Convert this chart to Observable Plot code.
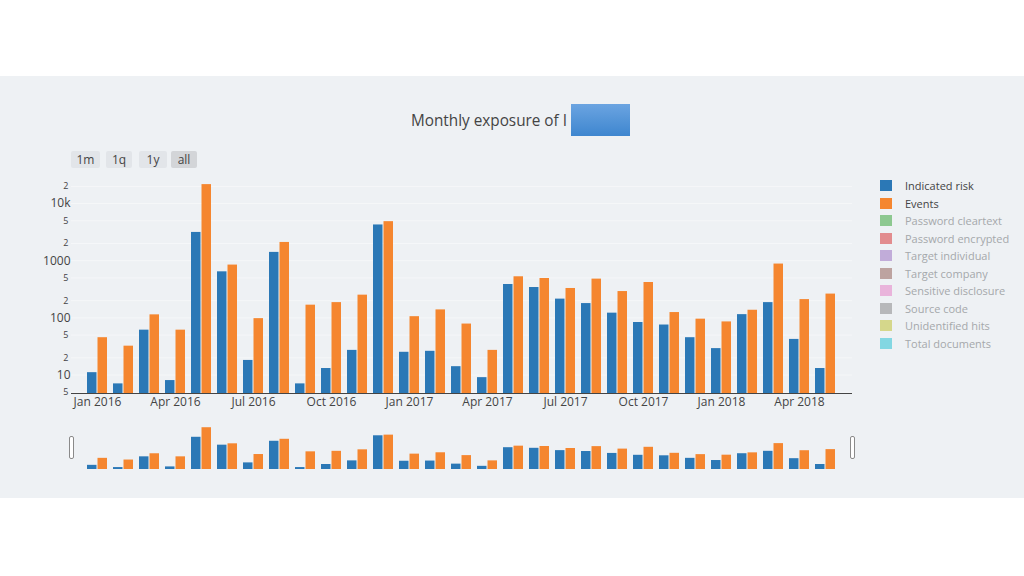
<!DOCTYPE html>
<html>
<head>
<meta charset="utf-8">
<script src="https://cdn.jsdelivr.net/npm/d3@7"></script>
<script src="https://cdn.jsdelivr.net/npm/@observablehq/plot@0.6"></script>
<style>
  html, body { margin: 0; padding: 0; background: #fff; }
  body { width: 1024px; height: 576px; position: relative; overflow: hidden; font-family: "Open Sans", sans-serif; }
  #panel { position: absolute; left: 0; top: 76px; width: 1024px; height: 422px; background: #eef1f4; }
  #title { position: absolute; left: 411px; top: 109px; font-size: 17px; line-height: 22px; color: #444; white-space: nowrap; transform: scaleX(0.9); transform-origin: left center; }
  #redact { position: absolute; left: 571px; top: 104px; width: 59px; height: 32px; background: linear-gradient(#6ba4e1, #3e86cf); }
  .btn { position: absolute; top: 151px; height: 17px; line-height: 17px; font-size: 12px; color: #444; background: #e2e5e9; text-align: center; border-radius: 2px; }
  .btn.sel { background: #d3d5d8; }
  #main, #mini { position: absolute; left: 0; }
  #main { top: 170px; }
  #mini { top: 420px; }
  #legend { position: absolute; left: 880px; top: 177px; }
  .li { height: 17.5px; display: flex; align-items: center; font-size: 11px; color: #444; white-space: nowrap; }
  .li .sw { width: 12px; height: 11px; margin-right: 13px; }
  .li.off { color: #a5a8ab; }
  .li.off .sw { opacity: 0.5; }
  .handle { position: absolute; top: 436px; width: 3px; height: 21px; background: #fff; border: 1px solid #8a8a8a; border-radius: 2px; }
</style>
</head>
<body>
<div id="panel"></div>
<div id="title">Monthly exposure of I</div>
<div id="redact"></div>
<div id="buttons"></div>
<div id="main"></div>
<div id="mini"></div>
<div id="legend"></div>
<div class="handle" style="left:69px"></div>
<div class="handle" style="left:850px"></div>
<script>
// ---- data ----
const months = ["2016-01","2016-02","2016-03","2016-04","2016-05","2016-06","2016-07","2016-08","2016-09","2016-10","2016-11","2016-12",
                "2017-01","2017-02","2017-03","2017-04","2017-05","2017-06","2017-07","2017-08","2017-09","2017-10","2017-11","2017-12",
                "2018-01","2018-02","2018-03","2018-04","2018-05"];
const indicatedRisk = [11, 7, 61, 8, 3130, 640, 18, 1400, 7, 13, 27, 4230,
                       25, 26, 14, 9, 384, 340, 213, 178, 121, 83, 75, 45,
                       29, 114, 185, 42, 13];
const events = [45, 32, 113, 61, 21500, 840, 97, 2090, 167, 185, 250, 4830,
                105, 138, 78, 27, 524, 489, 327, 477, 289, 416, 124, 95,
                85, 136, 875, 209, 261];
const xTicks = ["2016-01","2016-04","2016-07","2016-10","2017-01","2017-04","2017-07","2017-10","2018-01","2018-04"];
const xTickLabels = ["Jan 2016","Apr 2016","Jul 2016","Oct 2016","Jan 2017","Apr 2017","Jul 2017","Oct 2017","Jan 2018","Apr 2018"];
const yMajorTicks = [10, 100, 1000, 10000];
const yMajorLabels = ["10", "100", "1000", "10k"];
const yMinorTicks = [5, 20, 50, 200, 500, 2000, 5000, 20000];
const yMinorLabels = ["5", "2", "5", "2", "5", "2", "5", "2"];
const seriesNames = ["Indicated risk","Events","Password cleartext","Password encrypted","Target individual","Target company","Sensitive disclosure","Source code","Unidentified hits","Total documents"];
const seriesColors = ["#2b78b6","#f5862f","#2ca02c","#d62728","#9467bd","#8c564b","#e377c2","#7f7f7f","#bcbd22","#17becf"];
const seriesVisible = [true, true, false, false, false, false, false, false, false, false];
const buttonLabels = ["1m", "1q", "1y", "all"];

// ---- layout ----
const table = months.map((m, i) => ({month: m, risk: indicatedRisk[i], events: events[i]}));
const majorTable = yMajorTicks.map((v, i) => ({v, label: yMajorLabels[i]}));
const minorTable = yMinorTicks.map((v, i) => ({v, label: yMinorLabels[i]}));
const yDomain = [4.75, 27500];
const W = 1024, mL = 71, mR = 1024 - 852;
const padIn = 0.22, padOut = 0.11;
const step = (W - mL - mR) / (months.length - padIn + 2 * padOut);
const half = step * (1 - padIn) / 2;
const blue = seriesColors[0], orange = seriesColors[1];

const xOpts = {domain: months, paddingInner: padIn, paddingOuter: padOut, axis: null};

const main = Plot.plot({
  width: W, height: 250,
  marginLeft: mL, marginRight: mR, marginTop: 8, marginBottom: 27,
  style: {background: "transparent", fontFamily: "Open Sans", color: "#444"},
  x: xOpts,
  y: {type: "log", domain: yDomain, axis: null},
  marks: [
    Plot.gridY([...yMajorTicks, ...yMinorTicks], {stroke: "#ffffff", strokeOpacity: 0.45}),
    Plot.barY(table, {x: "month", y1: yDomain[0], y2: "risk", fill: blue, insetLeft: 0, insetRight: half}),
    Plot.barY(table, {x: "month", y1: yDomain[0], y2: "events", fill: orange, insetLeft: half, insetRight: 0}),
    Plot.ruleY([yDomain[0]], {stroke: "#444", strokeWidth: 1.2}),
    Plot.text(majorTable, {y: "v", text: "label", frameAnchor: "left", textAnchor: "end", dx: -1, fontSize: 12, fill: "#444"}),
    Plot.text(minorTable, {y: "v", text: "label", frameAnchor: "left", textAnchor: "end", dx: -3, fontSize: 9, fill: "#444"}),
    Plot.axisX(xTicks, {tickSize: 0, tickPadding: 4, fontSize: 12, fill: "#444", label: null,
      tickFormat: d => xTickLabels[xTicks.indexOf(d)]})
  ]
});
document.getElementById("main").appendChild(main);

const mini = Plot.plot({
  width: W, height: 55,
  marginLeft: mL, marginRight: mR, marginTop: 6, marginBottom: 6,
  style: {background: "transparent"},
  x: xOpts,
  y: {type: "log", domain: yDomain, axis: null},
  marks: [
    Plot.barY(table, {x: "month", y1: yDomain[0], y2: "risk", fill: blue, insetRight: half}),
    Plot.barY(table, {x: "month", y1: yDomain[0], y2: "events", fill: orange, insetLeft: half})
  ]
});
document.getElementById("mini").appendChild(mini);

// buttons
const btnLeft = [71, 106, 139, 171], btnW = [29, 26, 28, 26];
const bdiv = document.getElementById("buttons");
buttonLabels.forEach((b, i) => {
  const el = document.createElement("div");
  el.className = "btn" + (b === "all" ? " sel" : "");
  el.style.left = btnLeft[i] + "px";
  el.style.width = btnW[i] + "px";
  el.textContent = b;
  bdiv.appendChild(el);
});

// legend
const lg = document.getElementById("legend");
seriesNames.forEach((n, i) => {
  const row = document.createElement("div");
  row.className = "li" + (seriesVisible[i] ? "" : " off");
  const sw = document.createElement("div");
  sw.className = "sw";
  sw.style.background = seriesColors[i];
  const t = document.createElement("span");
  t.textContent = n;
  row.appendChild(sw); row.appendChild(t);
  lg.appendChild(row);
});
</script>
</body>
</html>
